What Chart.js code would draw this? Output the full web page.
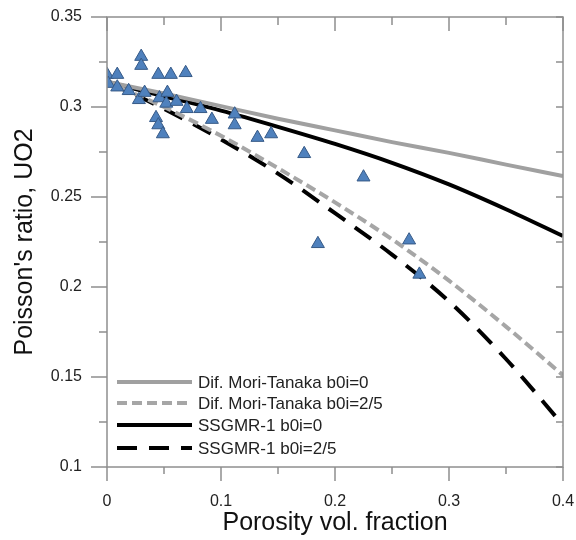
<!DOCTYPE html>
<html>
<head>
<meta charset="utf-8">
<script src="https://cdn.jsdelivr.net/npm/chart.js@4.4.1/dist/chart.umd.min.js"></script>
<style>
  html, body { margin: 0; padding: 0; background: #fff; }
  #wrap { width: 576px; height: 540px; }
</style>
</head>
<body>
<div id="wrap"><canvas id="chart" width="576" height="540"></canvas></div>
<script>
// measured points (porosity, Poisson's ratio)
const measuredX = [0.000, 0.009, 0.001, 0.009, 0.019, 0.030, 0.030, 0.028, 0.033, 0.045,
                   0.056, 0.069, 0.046, 0.053, 0.052, 0.061, 0.070, 0.082, 0.092, 0.043,
                   0.045, 0.049, 0.112, 0.112, 0.132, 0.144, 0.173, 0.225, 0.185, 0.265, 0.274];
const measuredY = [0.318, 0.318, 0.313, 0.311, 0.309, 0.328, 0.323, 0.304, 0.308, 0.318,
                   0.318, 0.319, 0.305, 0.308, 0.302, 0.303, 0.299, 0.299, 0.293, 0.294,
                   0.290, 0.285, 0.296, 0.290, 0.283, 0.285, 0.274, 0.261, 0.224, 0.226, 0.207];

// model curves
const curveX = [0, 0.05, 0.1, 0.15, 0.2, 0.25, 0.3, 0.35, 0.4];
const moriTanakaB0 = [0.314, 0.3075, 0.3005, 0.2935, 0.287, 0.2805, 0.2745, 0.268, 0.2617];
const moriTanakaB25 = [0.314, 0.300, 0.284, 0.266, 0.247, 0.2265, 0.2035, 0.178, 0.151];
const ssgmrB0 = [0.314, 0.306, 0.298, 0.289, 0.2795, 0.269, 0.257, 0.2432, 0.2283];
const ssgmrB25 = [0.314, 0.299, 0.282, 0.263, 0.241, 0.218, 0.192, 0.160, 0.1233];

const seriesNames = ['Dif. Mori-Tanaka b0i=0', 'Dif. Mori-Tanaka b0i=2/5', 'SSGMR-1 b0i=0', 'SSGMR-1 b0i=2/5'];

const xMinor = [0, 0.05, 0.1, 0.15, 0.2, 0.25, 0.3, 0.35, 0.4];
const yMinor = [0.1, 0.125, 0.15, 0.175, 0.2, 0.225, 0.25, 0.275, 0.3, 0.325, 0.35];

const toPts = ys => curveX.map((x, i) => ({ x, y: ys[i] }));
const fmt = v => String(+Number(v).toFixed(3));

const AXIS = '#8f8f8f';
const FONT = '"Liberation Sans", Arial, sans-serif';

const framePlugin = {
  id: 'frame',
  afterDatasetsDraw(chart) {
    const { ctx, chartArea: a, scales } = chart;
    const xs = scales.x, ys = scales.y;
    ctx.save();
    ctx.strokeStyle = AXIS;
    ctx.lineWidth = 1.5;
    ctx.strokeRect(a.left, a.top, a.right - a.left, a.bottom - a.top);
    ctx.beginPath();
    xMinor.forEach((v, i) => {
      const px = xs.getPixelForValue(v);
      const big = i % 2 === 0;
      ctx.moveTo(px, a.bottom); ctx.lineTo(px, a.bottom + (big ? 14 : 7));
      ctx.moveTo(px, a.top); ctx.lineTo(px, a.top + (big ? 14 : 8));
    });
    yMinor.forEach((v, i) => {
      const py = ys.getPixelForValue(v);
      const big = i % 2 === 0;
      ctx.moveTo(a.left, py); ctx.lineTo(a.left - (big ? 16 : 8), py);
      ctx.moveTo(a.right, py); ctx.lineTo(a.right - 7, py);
    });
    ctx.stroke();

    // legend
    const rows = [382, 403, 425, 448];
    chart.data.datasets.slice(1).forEach((ds, i) => {
      const y = rows[i];
      ctx.strokeStyle = ds.borderColor;
      ctx.lineWidth = ds.borderWidth;
      ctx.setLineDash(ds.borderDash || []);
      ctx.beginPath();
      ctx.moveTo(117, y); ctx.lineTo(192, y);
      ctx.stroke();
      ctx.setLineDash([]);
      ctx.fillStyle = '#222';
      ctx.font = '17px ' + FONT;
      ctx.textBaseline = 'middle';
      ctx.fillText(ds.label, 198, y + 1);
    });
    ctx.restore();
  }
};

const lineDs = (label, ys, color, dash) => ({
  type: 'line',
  label,
  data: toPts(ys),
  borderColor: color,
  borderWidth: 4,
  borderDash: dash,
  pointRadius: 0,
  fill: false,
  cubicInterpolationMode: 'monotone',
  order: 2
});

new Chart(document.getElementById('chart'), {
  type: 'scatter',
  data: {
    datasets: [
      {
        label: 'UO2 data',
        data: measuredX.map((x, i) => ({ x, y: measuredY[i] })),
        pointStyle: 'triangle',
        pointRadius: 7.5,
        backgroundColor: '#4f81bd',
        borderColor: '#375a87',
        borderWidth: 1,
        order: 0
      },
      lineDs(seriesNames[0], moriTanakaB0, '#a0a0a0', []),
      lineDs(seriesNames[1], moriTanakaB25, '#a6a6a6', [10, 5]),
      lineDs(seriesNames[2], ssgmrB0, '#000000', []),
      lineDs(seriesNames[3], ssgmrB25, '#000000', [20, 12])
    ]
  },
  options: {
    responsive: false,
    animation: false,
    devicePixelRatio: 1,
    layout: { padding: { top: 17, right: 13, left: 0, bottom: 0 } },
    plugins: { legend: { display: false }, tooltip: { enabled: false } },
    scales: {
      x: {
        type: 'linear', min: 0, max: 0.4,
        afterFit: s => { s.height = 73; s.paddingLeft = 0; s.paddingRight = 0; },
        grid: { display: false, drawTicks: false },
        border: { display: false },
        ticks: { stepSize: 0.1, padding: 25, color: '#222', font: { size: 16, family: FONT }, callback: fmt },
        title: { display: true, text: 'Porosity vol. fraction', color: '#111', font: { size: 25, family: FONT }, padding: { top: 0, bottom: 2 } }
      },
      y: {
        type: 'linear', min: 0.1, max: 0.35,
        afterFit: s => { s.width = 107; s.paddingTop = 0; s.paddingBottom = 0; },
        grid: { display: false, drawTicks: false },
        border: { display: false },
        ticks: { stepSize: 0.05, padding: 25, color: '#222', font: { size: 16, family: FONT }, callback: fmt },
        title: { display: true, text: "Poisson's ratio, UO2", color: '#111', font: { size: 25, family: FONT }, padding: { top: 10, bottom: 0 } }
      }
    }
  },
  plugins: [framePlugin]
});
</script>
</body>
</html>
